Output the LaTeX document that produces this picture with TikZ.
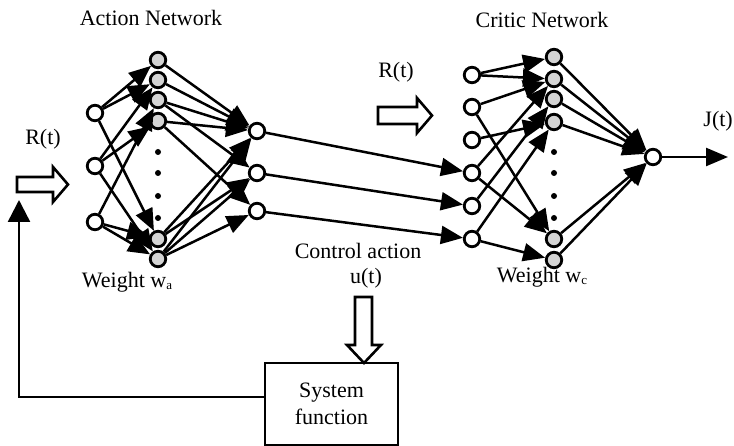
\documentclass[tikz,border=0pt]{standalone}
\usepackage{fontspec}
\setmainfont{Liberation Serif}
\usetikzlibrary{arrows.meta}
\begin{document}
\begin{tikzpicture}[x=1pt,y=-1pt,
  neuron/.style={circle,draw,line width=2.8pt,fill=white,minimum size=15.5pt,inner sep=0pt},
  hid/.style={neuron,fill=black!17},
  conn/.style={line width=2.5pt,-{Triangle[length=22pt,width=18pt]}},
  lbl/.style={font=\fontsize{22}{24}\selectfont,inner sep=0pt},
  dotn/.style={circle,fill,inner sep=0pt,minimum size=6pt},
  hollow/.style={draw,line width=2.6pt,fill=white,line join=miter}]
\useasboundingbox (0,0) rectangle (734,446);

% ---------- Action network nodes
\node[neuron] (ai1) at (95,113) {};
\node[neuron] (ai2) at (95,166) {};
\node[neuron] (ai3) at (95,222) {};
\node[hid] (ah1) at (158,60) {};
\node[hid] (ah2) at (158,80) {};
\node[hid] (ah3) at (158,100) {};
\node[hid] (ah4) at (158,121) {};
\node[hid] (ah7) at (158,239) {};
\node[hid] (ah8) at (158,259) {};
\node[dotn] (ad1) at (158,152) {};
\node[dotn] (ad2) at (158,173) {};
\node[dotn] (ad3) at (158,196) {};
\node[dotn] (ad4) at (158,218) {};
\node[neuron] (ao1) at (257,131) {};
\node[neuron] (ao2) at (257,173) {};
\node[neuron] (ao3) at (257,211) {};

% ---------- Critic network nodes
\node[neuron] (ci1) at (472,75) {};
\node[neuron] (ci2) at (472,107) {};
\node[neuron] (ci3) at (472,140) {};
\node[neuron] (ci4) at (472,173) {};
\node[neuron] (ci5) at (472,206) {};
\node[neuron] (ci6) at (472,239) {};
\node[hid] (ch1) at (554,57) {};
\node[hid] (ch2) at (554,79) {};
\node[hid] (ch3) at (554,99) {};
\node[hid] (ch4) at (554,122) {};
\node[hid] (ch7) at (554,239) {};
\node[hid] (ch8) at (554,260) {};
\node[dotn] (cd1) at (554,152) {};
\node[dotn] (cd2) at (554,173) {};
\node[dotn] (cd3) at (554,196) {};
\node[dotn] (cd4) at (554,218) {};
\node[neuron] (co) at (653,157) {};
\coordinate (jend) at (728,157);

% ---------- Labels
\node[lbl] (an) at (151,18) {Action Network};
\node[lbl] (cn) at (542,20) {Critic Network};
\node[lbl] (r1) at (43,139) {R(t)};
\node[lbl] (r2) at (396,72) {R(t)};
\node[lbl,anchor=east] (jt) at (733,121) {J(t)};
\node[lbl] (wa) at (127,282) {Weight w\raisebox{-0.25ex}{\fontsize{13}{13}\selectfont a}};
\node[lbl] (wc) at (542,277) {Weight w\raisebox{-0.25ex}{\fontsize{13}{13}\selectfont c}};
\node[lbl] (ca) at (358,251) {Control action};
\node[lbl] (ut) at (366,278) {u(t)};
\node[draw,line width=2.8pt,minimum width=133pt,minimum height=82pt,inner sep=0pt,
      align=center,font=\fontsize{22}{27}\selectfont] (sys) at (331.5,404) {System\\function};
\coordinate (fb) at (19,200);

% ---------- Hollow arrows
\draw[hollow] (17,177) -- (53,177) -- (53,167) -- (68,184.5) -- (53,202) -- (53,192) -- (17,192) -- cycle;
\draw[hollow] (378,107) -- (417,107) -- (417,98) -- (432,115.5) -- (417,133) -- (417,124) -- (378,124) -- cycle;
\draw[hollow] (355,297) -- (355,345) -- (347,345) -- (364,363) -- (381,345) -- (372,345) -- (372,297) -- cycle;

% ---------- Feedback
\draw[line width=2.5pt,-{Triangle[length=22pt,width=22pt]}] ([yshift=7pt]sys.west) -| (fb);

% ---------- Action input -> hidden
\foreach \a/\b in {ai1/ah1,ai1/ah2,ai1/ah7,ai2/ah2,ai2/ah4,ai2/ah8,ai3/ah3,ai3/ah7,ai3/ah8}
  \draw[conn] (\a) -- (\b);
% ---------- Action hidden -> output
\foreach \a/\b in {ah1/ao1,ah2/ao1,ah3/ao1,ah3/ao2,ah4/ao1,ah4/ao3,ah7/ao1,ah7/ao2,ah8/ao1,ah8/ao2,ah8/ao3}
  \draw[conn] (\a) -- (\b);
% ---------- Action output -> critic input
\draw[conn] (ao1) -- (ci4);
\draw[conn] (ao2) -- (ci5);
\draw[conn] (ao3) -- (ci6);
% ---------- Critic input -> hidden
\foreach \a/\b in {ci1/ch1,ci1/ch2,ci2/ch2,ci2/ch7,ci3/ch4,ci4/ch2,ci4/ch7,ci5/ch3,ci6/ch4,ci6/ch8}
  \draw[conn] (\a) -- (\b);
% ---------- Critic hidden -> output
\foreach \a in {ch1,ch2,ch3,ch4,ch7,ch8}
  \draw[conn] (\a) -- (co);
\draw[conn] (co) -- (jend);
\end{tikzpicture}
\end{document}
